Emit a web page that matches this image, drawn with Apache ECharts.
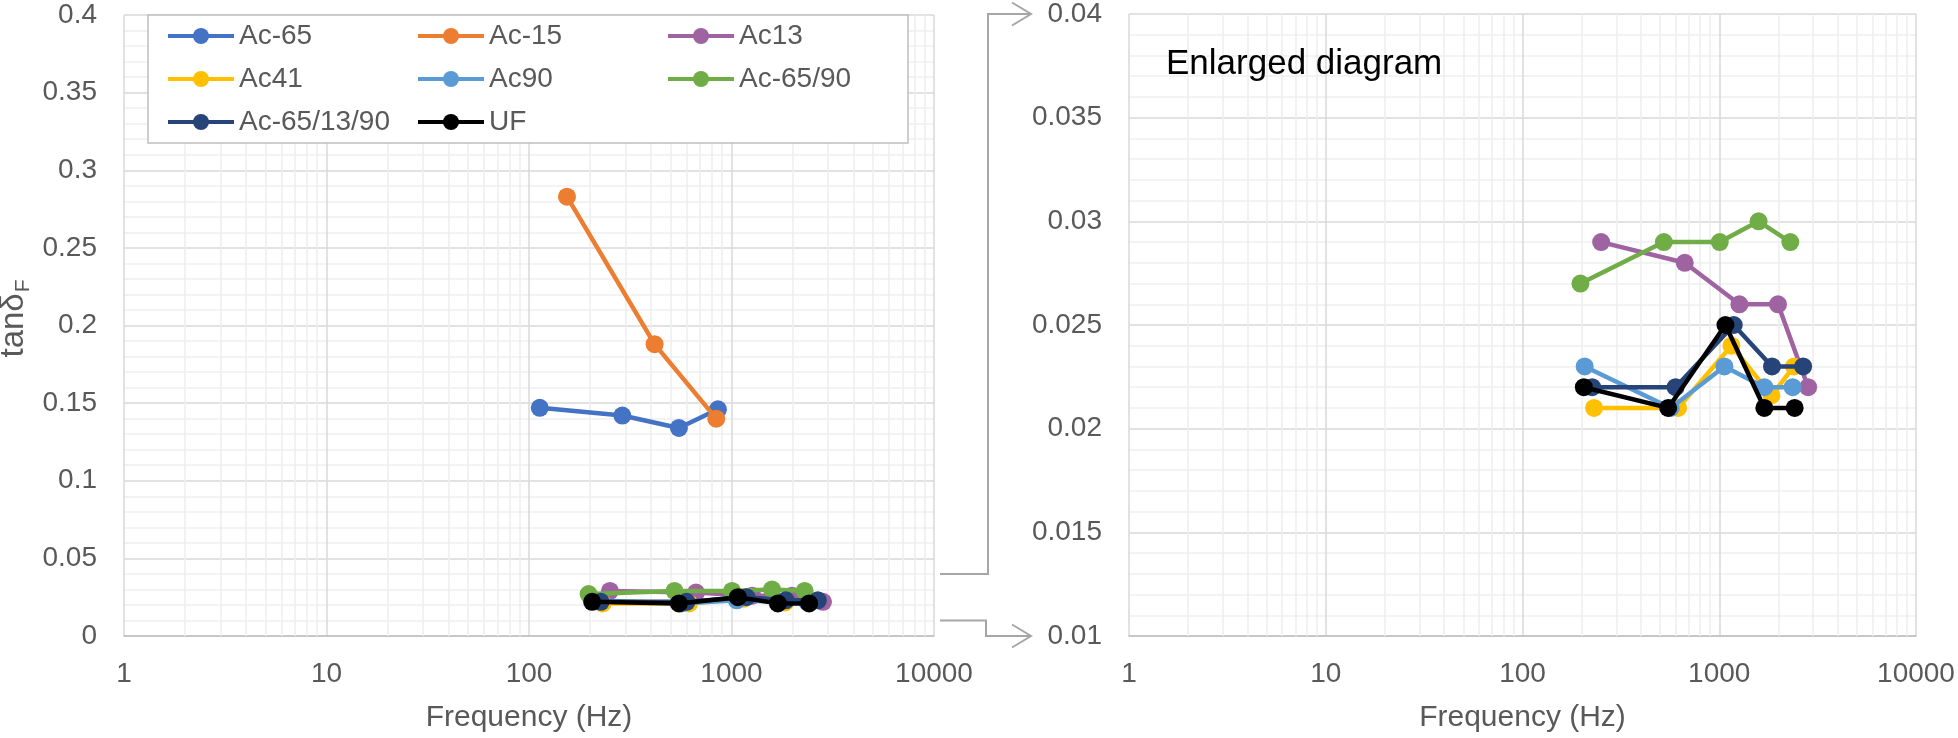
<!DOCTYPE html>
<html>
<head>
<meta charset="utf-8">
<script src="https://cdn.jsdelivr.net/npm/echarts@6/dist/echarts.min.js"></script>
<style>
html,body{margin:0;padding:0;background:#fff;}
#chart{width:1958px;height:738px;}
</style>
</head>
<body>
<div id="chart"></div>
<script>
// ---- data (frequency in Hz, tanδF) ----
const seriesNames = ['Ac-65', 'Ac-15', 'Ac13', 'Ac41', 'Ac90', 'Ac-65/90', 'Ac-65/13/90', 'UF'];
const freqAc65 = [113, 289, 550, 857];
const tanAc65 = [0.147, 0.142, 0.134, 0.146];
const freqAc15 = [154, 417, 841];
const tanAc15 = [0.283, 0.188, 0.140];
const freqAc13 = [251, 668, 1266, 1989, 2830];
const tanAc13 = [0.029, 0.028, 0.026, 0.026, 0.022];
const freqAc41 = [231, 618, 1153, 1841, 2400];
const tanAc41 = [0.021, 0.021, 0.024, 0.0216, 0.023];
const freqAc90 = [207, 567, 1062, 1695, 2361];
const tanAc90 = [0.023, 0.021, 0.023, 0.022, 0.022];
const freqAc6590 = [197, 523, 1006, 1585, 2297];
const tanAc6590 = [0.027, 0.029, 0.029, 0.030, 0.029];
const freqAc651390 = [226, 600, 1185, 1854, 2669];
const tanAc651390 = [0.022, 0.022, 0.025, 0.023, 0.023];
const freqUF = [205, 550, 1075, 1695, 2417];
const tanUF = [0.022, 0.021, 0.025, 0.021, 0.021];
const xTickLabels = ['1', '10', '100', '1000', '10000'];
const leftYTicks = [0, 0.05, 0.1, 0.15, 0.2, 0.25, 0.3, 0.35, 0.4];
const rightYTicks = [0.01, 0.015, 0.02, 0.025, 0.03, 0.035, 0.04];

const colors = ['#4472C4', '#ED7D31', '#9E63A0', '#FFC000', '#5B9BD5', '#70AD47', '#264478', '#000000'];
const freqs = [freqAc65, freqAc15, freqAc13, freqAc41, freqAc90, freqAc6590, freqAc651390, freqUF];
const tans = [tanAc65, tanAc15, tanAc13, tanAc41, tanAc90, tanAc6590, tanAc651390, tanUF];
const rightIncluded = [false, false, true, true, true, true, true, true];

const FONT = 'Liberation Sans, Arial, sans-serif';
const LABEL_COLOR = '#595959';

// minor log gridline positions (2..9 per decade)
const minorX = [];
for (let d = 1; d < 10000; d *= 10) for (let k = 2; k <= 9; k++) minorX.push(d * k);

function xAxisFor(gi) {
  return {
    type: 'log', logBase: 10, min: 1, max: 10000, gridIndex: gi,
    axisLine: { show: true, onZero: false, lineStyle: { color: '#bfbfbf', width: 1.5 } },
    axisTick: { show: false },
    splitLine: { show: true, lineStyle: { color: '#d9d9d9', width: 1.5 } },
    axisLabel: { fontSize: 28, color: LABEL_COLOR, fontFamily: FONT, margin: 24,
      formatter: v => { const s = String(Math.round(v)); return xTickLabels.includes(s) ? s : ''; } },
    name: 'Frequency (Hz)', nameLocation: 'middle', nameGap: 67,
    nameTextStyle: { fontSize: 30, color: LABEL_COLOR, fontFamily: FONT }
  };
}
function yAxisFor(gi, ticks, minorColor) {
  const interval = +(ticks[1] - ticks[0]).toFixed(6);
  return {
    type: 'value', gridIndex: gi, min: ticks[0], max: ticks[ticks.length - 1], interval: interval,
    axisLine: { show: false }, axisTick: { show: false },
    splitLine: { show: true, lineStyle: { color: '#d9d9d9', width: 1.5 } },
    minorTick: { show: false, splitNumber: 5 },
    minorSplitLine: { show: true, lineStyle: { color: minorColor, width: 1.5 } },
    axisLabel: { fontSize: 28, color: LABEL_COLOR, fontFamily: FONT, margin: 27,
      formatter: v => String(+(+v).toFixed(4)) }
  };
}

const series = [];
// helper series for minor x gridlines
[0, 1].forEach(gi => {
  series.push({
    type: 'line', name: '_minor' + gi, xAxisIndex: gi, yAxisIndex: gi, data: [], z: 1,
    silent: true, animation: false,
    markLine: {
      silent: true, symbol: ['none', 'none'], label: { show: false }, animation: false,
      z: 1, zlevel: 0,
      lineStyle: { color: '#eeeeee', width: 1.5, type: 'solid' },
      emphasis: { disabled: true },
      data: minorX.map(v => ({ xAxis: v }))
    }
  });
});
[0, 1].forEach(gi => {
  seriesNames.forEach((nm, i) => {
    if (gi === 1 && !rightIncluded[i]) return;
    series.push({
      type: 'line', name: nm, xAxisIndex: gi, yAxisIndex: gi,
      data: freqs[i].map((f, j) => [f, tans[i][j]]),
      symbol: 'circle', symbolSize: 18, showSymbol: true,
      lineStyle: { color: colors[i], width: 4.5 },
      itemStyle: { color: colors[i] },
      z: 3 + i, animation: false, clip: true,
      emphasis: { disabled: true }
    });
  });
});

const chart = echarts.init(document.getElementById('chart'), null, { renderer: 'canvas' });

chart.setOption({
  backgroundColor: '#ffffff',
  animation: false,
  textStyle: { fontFamily: FONT },
  grid: [
    { left: 124, top: 15, width: 810, height: 623 },
    { left: 1129, top: 14, width: 787, height: 625 }
  ],
  xAxis: [xAxisFor(0), xAxisFor(1)],
  yAxis: [yAxisFor(0, leftYTicks, '#efefef'), yAxisFor(1, rightYTicks, '#efefef')],
  legend: {
    data: seriesNames,
    left: 148, top: 15, width: 770, z: 20,
    padding: [4, 1, 4, 18],
    backgroundColor: '#ffffff', borderColor: '#bfbfbf', borderWidth: 1.5,
    itemWidth: 66, itemHeight: 20, itemGap: 9,
    lineStyle: { width: 4 },
    textStyle: { fontSize: 28, color: LABEL_COLOR, fontFamily: FONT, width: 168, lineHeight: 34 },
    selectedMode: false
  },
  series: series
});

// annotations: y-axis name, "Enlarged diagram", connector arrows (positions via axis scales)
const yL04 = chart.convertToPixel({ yAxisIndex: 0 }, 0.04);
const yL01 = chart.convertToPixel({ yAxisIndex: 0 }, 0.01);
const yLmid = chart.convertToPixel({ yAxisIndex: 0 }, 0.2);
const yR04 = chart.convertToPixel({ yAxisIndex: 1 }, 0.04);
const yR01 = chart.convertToPixel({ yAxisIndex: 1 }, 0.01);
const leftEdge = chart.convertToPixel({ xAxisIndex: 0 }, 10000);
const x0 = leftEdge + 6, xv1 = 988, xv2 = 986, xt = 1031;
const lineSt = { stroke: '#a6a6a6', lineWidth: 2, fill: null };
function arrow(y) {
  return { type: 'polyline', shape: { points: [[xt - 19, y - 11.5], [xt, y], [xt - 19, y + 11.5]] }, style: lineSt, z: 10 };
}
// measure the y-axis name parts
const mctx = document.createElement('canvas').getContext('2d');
const mainFont = '33px ' + FONT, subFont = '21px ' + FONT;
mctx.font = mainFont; const wMain = mctx.measureText('tanδ').width;
mctx.font = subFont; const wSub = mctx.measureText('F').width;
const totalW = wMain + wSub + 1;

chart.setOption({
  graphic: [
    { type: 'polyline', shape: { points: [[x0, yL04], [xv1, yL04], [xv1, yR04], [xt, yR04]] }, style: lineSt, z: 10 },
    arrow(yR04),
    { type: 'polyline', shape: { points: [[x0, yL01], [xv2, yL01], [xv2, yR01], [xt, yR01]] }, style: lineSt, z: 10 },
    arrow(yR01),
    { type: 'text', x: 1166, y: 64, z: 10,
      style: { text: 'Enlarged diagram', font: '35px ' + FONT, fill: '#000000', verticalAlign: 'middle', align: 'left' } },
    { type: 'group', x: 14, y: yLmid - 7, rotation: Math.PI / 2, z: 10,
      children: [
        { type: 'text', x: -totalW / 2, y: 0, z: 10,
          style: { text: 'tanδ', font: mainFont, fill: LABEL_COLOR, align: 'left', verticalAlign: 'middle' } },
        { type: 'text', x: -totalW / 2 + wMain + 1, y: 9, z: 10,
          style: { text: 'F', font: subFont, fill: LABEL_COLOR, align: 'left', verticalAlign: 'middle' } }
      ] }
  ]
});
</script>
</body>
</html>
